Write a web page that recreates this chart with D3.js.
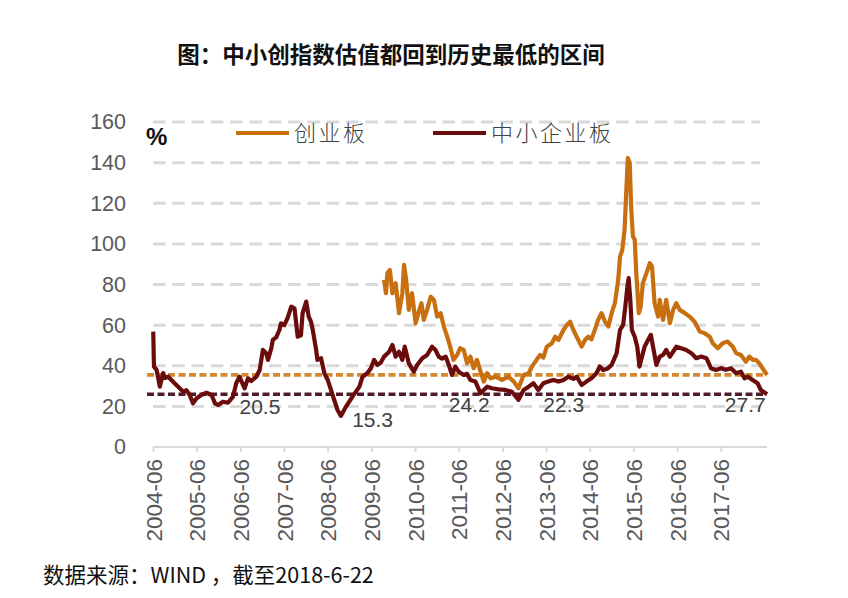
<!DOCTYPE html>
<html><head><meta charset="utf-8">
<script src="https://cdn.jsdelivr.net/npm/d3@7"></script>
<style>body{margin:0;background:#fff}</style>
</head><body><svg id="c" width="848" height="598"></svg>
<script>
const title = "图：中小创指数估值都回到历史最低的区间";
const source = "数据来源：WIND ，截至2018-6-22";
const seriesNames = ["创业板", "中小企业板"];
const yTicks = [0, 20, 40, 60, 80, 100, 120, 140, 160];
const xTickLabels = ["2004-06","2005-06","2006-06","2007-06","2008-06","2009-06","2010-06","2011-06","2012-06","2013-06","2014-06","2015-06","2016-06","2017-06"];

const smeDates = ["2004-06-03","2004-06-09","2004-07-01","2004-07-28","2004-08-25","2004-09-09","2004-10-06","2004-11-18","2004-12-28","2005-02-09","2005-03-07","2005-04-04","2005-05-01","2005-06-01","2005-07-10","2005-08-22","2005-10-04","2005-11-01","2005-11-28","2006-01-07","2006-02-18","2006-04-01","2006-04-28","2006-05-25","2006-07-07","2006-08-04","2006-09-01","2006-10-13","2006-11-10","2006-12-07","2007-01-04","2007-01-18","2007-02-15","2007-02-28","2007-03-28","2007-04-24","2007-05-07","2007-06-04","2007-07-01","2007-08-01","2007-08-28","2007-09-24","2007-10-21","2007-11-04","2007-12-04","2007-12-25","2008-01-13","2008-01-28","2008-02-25","2008-03-07","2008-04-06","2008-05-04","2008-06-01","2008-06-28","2008-07-25","2008-08-22","2008-09-19","2008-11-01","2008-12-25","2009-02-21","2009-03-19","2009-04-28","2009-05-28","2009-06-24","2009-07-21","2009-08-18","2009-09-15","2009-10-28","2009-11-24","2009-12-21","2010-01-18","2010-02-15","2010-03-07","2010-04-10","2010-05-22","2010-06-19","2010-08-01","2010-09-10","2010-10-22","2010-11-19","2010-12-16","2011-01-13","2011-02-12","2011-03-10","2011-04-06","2011-05-04","2011-06-01","2011-07-13","2011-08-10","2011-09-07","2011-10-19","2011-12-01","2011-12-28","2012-01-25","2012-03-04","2012-05-01","2012-06-25","2012-08-19","2012-10-13","2012-11-25","2013-01-06","2013-02-15","2013-03-28","2013-05-09","2013-06-19","2013-08-01","2013-09-12","2013-10-24","2013-12-04","2014-01-15","2014-02-12","2014-03-25","2014-05-04","2014-06-15","2014-07-27","2014-08-24","2014-09-21","2014-10-25","2014-12-01","2015-01-12","2015-02-09","2015-03-07","2015-03-25","2015-04-12","2015-04-22","2015-05-06","2015-05-19","2015-06-12","2015-07-03","2015-07-22","2015-08-12","2015-09-03","2015-10-01","2015-10-25","2015-11-12","2015-12-10","2016-01-07","2016-02-04","2016-03-01","2016-04-01","2016-04-28","2016-05-25","2016-07-04","2016-08-16","2016-09-28","2016-11-07","2016-12-19","2017-02-01","2017-03-10","2017-04-22","2017-06-04","2017-07-13","2017-08-25","2017-10-07","2017-11-16","2017-12-16","2018-01-13","2018-02-22","2018-04-04","2018-05-01","2018-06-22"];
const smeValues = [56.8,39.6,38,29.7,36.4,34,34.6,32,29.7,27.2,28,25.6,21.5,24,25.6,26.7,25.6,21.5,20.7,22.3,21.8,24.8,31.4,34.6,28.9,33.8,32.5,34.6,37.9,47.8,46.2,42.9,48.6,52.7,54,57.6,60.9,60,63.4,69.1,68.3,54.3,55,65.9,71.6,64.2,61.7,57.6,47.8,42.9,43.7,36.3,33,28.1,23.2,18.2,15.3,19.9,24.8,29.7,34.6,36.3,38.8,42.9,40.4,41.5,44.5,46.9,50.2,44.5,46.9,42.9,49.4,41.2,37.1,40.4,43.7,45.3,49.4,47.8,44.5,43.5,44.5,40.4,35.5,39.6,37.1,35.5,36,33,32.2,26.4,28.1,29.7,28.9,28.4,28.1,27.2,23.2,28.1,29.7,31.4,28.1,31.4,32.2,33,32.2,33,34.6,33.5,34.6,30.5,32.2,33.8,36.3,39.6,37.9,38.5,40.4,46.2,57.6,60.1,69.1,79,83.1,72.4,57.6,54.3,49.4,39.6,44.5,49.4,52.7,55.2,49.4,40.4,44.5,45.3,47.8,44.5,46.9,49.4,48.6,47.8,46.2,43.7,44.5,43.7,38.8,37.9,38.8,38,38.8,36.3,37.1,33.8,34.6,33,31.4,28.1,26];

const gemDates = ["2009-09-15","2009-10-01","2009-10-13","2009-11-03","2009-11-24","2009-12-21","2010-01-18","2010-02-15","2010-03-01","2010-03-19","2010-04-10","2010-05-07","2010-06-06","2010-07-03","2010-07-25","2010-08-13","2010-09-10","2010-10-10","2010-11-06","2010-12-03","2011-01-01","2011-01-28","2011-02-25","2011-03-22","2011-04-19","2011-05-19","2011-06-13","2011-07-13","2011-08-10","2011-09-07","2011-10-04","2011-11-01","2011-12-01","2011-12-28","2012-01-25","2012-02-22","2012-04-04","2012-05-28","2012-07-22","2012-09-04","2012-10-13","2012-11-25","2013-01-06","2013-02-03","2013-03-13","2013-04-12","2013-05-09","2013-06-07","2013-07-19","2013-08-16","2013-09-12","2013-10-24","2013-11-21","2013-12-19","2014-01-15","2014-02-12","2014-03-25","2014-04-22","2014-05-19","2014-06-15","2014-07-13","2014-08-10","2014-09-07","2014-10-07","2014-11-04","2014-12-01","2014-12-28","2015-01-25","2015-02-09","2015-02-28","2015-03-19","2015-04-03","2015-04-15","2015-05-01","2015-05-13","2015-05-28","2015-06-12","2015-06-25","2015-07-16","2015-08-01","2015-08-19","2015-09-18","2015-10-16","2015-11-04","2015-11-25","2015-12-25","2016-01-07","2016-02-04","2016-03-01","2016-04-01","2016-04-28","2016-05-25","2016-06-22","2016-08-04","2016-09-13","2016-10-25","2016-12-07","2017-01-16","2017-02-28","2017-03-25","2017-05-07","2017-06-16","2017-07-28","2017-09-09","2017-10-07","2017-11-16","2017-12-28","2018-01-25","2018-02-24","2018-03-22","2018-04-19","2018-06-22"];
const gemValues = [82.3,75.7,85.6,87.2,75.7,80.6,65.9,75.7,89.7,82.3,67.5,75.7,60.9,66.7,70.8,62.6,67.5,74,72.4,64.2,65.9,59.3,54.3,49.4,42.9,45.3,48.6,47.8,41.2,44.5,38.8,42.9,37.1,32.2,36.3,33.8,34.6,33,34.6,32.2,28.9,35.5,36.3,39.6,42.9,45.3,44,49.4,51.1,54.3,52.7,57.6,60.1,61.7,57.6,54.3,49.4,52.7,54.3,53,57.6,62.6,65.9,61.7,59.3,65.9,70.8,82.3,93.7,97,106.9,126.6,142.2,140,118.4,103.6,102,85.6,65.9,69.1,80.6,85.6,90.5,88.8,70.8,64.2,72.4,62.6,72.4,60.9,67.5,70.8,67.5,65.9,64.2,61.7,56.8,56,54.3,51.1,48.6,51.1,51.9,49.4,46.2,45.3,42,44.5,42.9,42.9,41.2,35.5];

// current-level reference lines: [创业板, 中小企业板]
const refValues = [35.5, 26];
const annoLabels = ["20.5","15.3","24.2","22.3","27.7"];
const annoDates = ["2006-05-25","2008-12-22","2011-03-10","2013-05-09","2017-07-04"];
const annoValues = [16.3, 9.9, 17.2, 17.2, 17.2];

const parse = d3.timeParse("%Y-%m-%d");
const parseM = d3.timeParse("%Y-%m");
const svg = d3.select("#c");
const x = d3.scaleTime().domain([parse("2004-06-01"), parse("2018-06-22")]).range([153, 767]);
const y = d3.scaleLinear().domain([0, 160]).range([447, 122]);

const LAT = "'Liberation Sans', Arial, sans-serif";
const CJK = "'Noto Sans CJK SC', sans-serif";

// title
svg.append("text").attr("x", 391).attr("y", 63).attr("text-anchor", "middle")
  .attr("font-family", CJK).attr("font-weight", "bold").attr("font-size", 22.5)
  .attr("fill", "#111").text(title);

// gridlines
svg.append("g").selectAll("line").data(yTicks.filter(d => d > 0)).join("line")
  .attr("x1", 153).attr("x2", 760).attr("y1", d => y(d)).attr("y2", d => y(d))
  .attr("stroke", "#D9D9D9").attr("stroke-width", 3).attr("stroke-dasharray", "12.5,6.8");

// y axis labels
const yAxis = d3.axisLeft(y).tickValues(yTicks).tickSize(0).tickPadding(0);
const gy = svg.append("g").attr("transform", "translate(126,0)").call(yAxis);
gy.select(".domain").remove();
gy.selectAll("text").attr("font-family", LAT).attr("font-size", 21.5).attr("fill", "#595959");

// x axis
const xTicks = xTickLabels.map(parseM);
const xAxis = d3.axisBottom(x).tickValues(xTicks).tickSize(5).tickFormat(d3.timeFormat("%Y-%m"));
const gx = svg.append("g").attr("transform", "translate(0,447)").call(xAxis);
gx.select(".domain").attr("stroke", "#D9D9D9").attr("stroke-width", 2).attr("d", "M153,0H767");
gx.selectAll(".tick line").attr("stroke", "#D9D9D9").attr("stroke-width", 2);
gx.selectAll("text").attr("font-family", LAT).attr("font-size", 22.5).attr("fill", "#595959")
  .attr("text-anchor", "end").attr("transform", "rotate(-90)").attr("x", -12).attr("y", 0).attr("dy", "0.36em");

// reference dashed lines
const refColors = ["#D4882F", "#4E1C2C"];
svg.append("g").selectAll("line").data(refValues).join("line")
  .attr("x1", 147).attr("x2", 767).attr("y1", d => y(d)).attr("y2", d => y(d))
  .attr("stroke", (d, i) => refColors[i]).attr("stroke-width", 3.6).attr("stroke-dasharray", "7,3.5");

// series lines
const line = d3.line().x(d => x(d[0])).y(d => y(d[1])).curve(d3.curveLinear);
const sme = smeDates.map((d, i) => [parse(d), smeValues[i]]);
const gem = gemDates.map((d, i) => [parse(d), gemValues[i]]);
const colors = ["#C8700F", "#6A0C0C"];
svg.append("path").datum(sme).attr("d", line).attr("fill", "none")
  .attr("stroke", colors[1]).attr("stroke-width", 4.2).attr("stroke-linejoin", "round");
svg.append("path").datum(gem).attr("d", line).attr("fill", "none")
  .attr("stroke", colors[0]).attr("stroke-width", 4.2).attr("stroke-linejoin", "round");

// annotations
svg.append("g").selectAll("text").data(annoLabels).join("text")
  .attr("x", (d, i) => x(parse(annoDates[i]))).attr("y", (d, i) => y(annoValues[i]))
  .attr("font-family", LAT).attr("font-size", 21).attr("fill", "#404040").text(d => d);

// legend
svg.append("text").attr("x", 146).attr("y", 145).attr("font-family", LAT).attr("font-weight", "bold")
  .attr("font-size", 24).attr("fill", "#111").text("%");
const legX = [236, 433];
seriesNames.forEach((n, i) => {
  svg.append("line").attr("x1", legX[i]).attr("x2", legX[i] + 53).attr("y1", 133).attr("y2", 133)
    .attr("stroke", colors[i]).attr("stroke-width", 4);
  svg.append("text").attr("x", legX[i] + 58).attr("y", 141).attr("font-family", CJK)
    .attr("font-size", 22).attr("font-weight", 300).attr("letter-spacing", 2.5).attr("fill", "#404040").text(n);
});

// source
svg.append("text").attr("x", 43).attr("y", 583).attr("font-family", CJK)
  .attr("font-size", 21.5).attr("fill", "#111").text(source);
</script></body></html>
